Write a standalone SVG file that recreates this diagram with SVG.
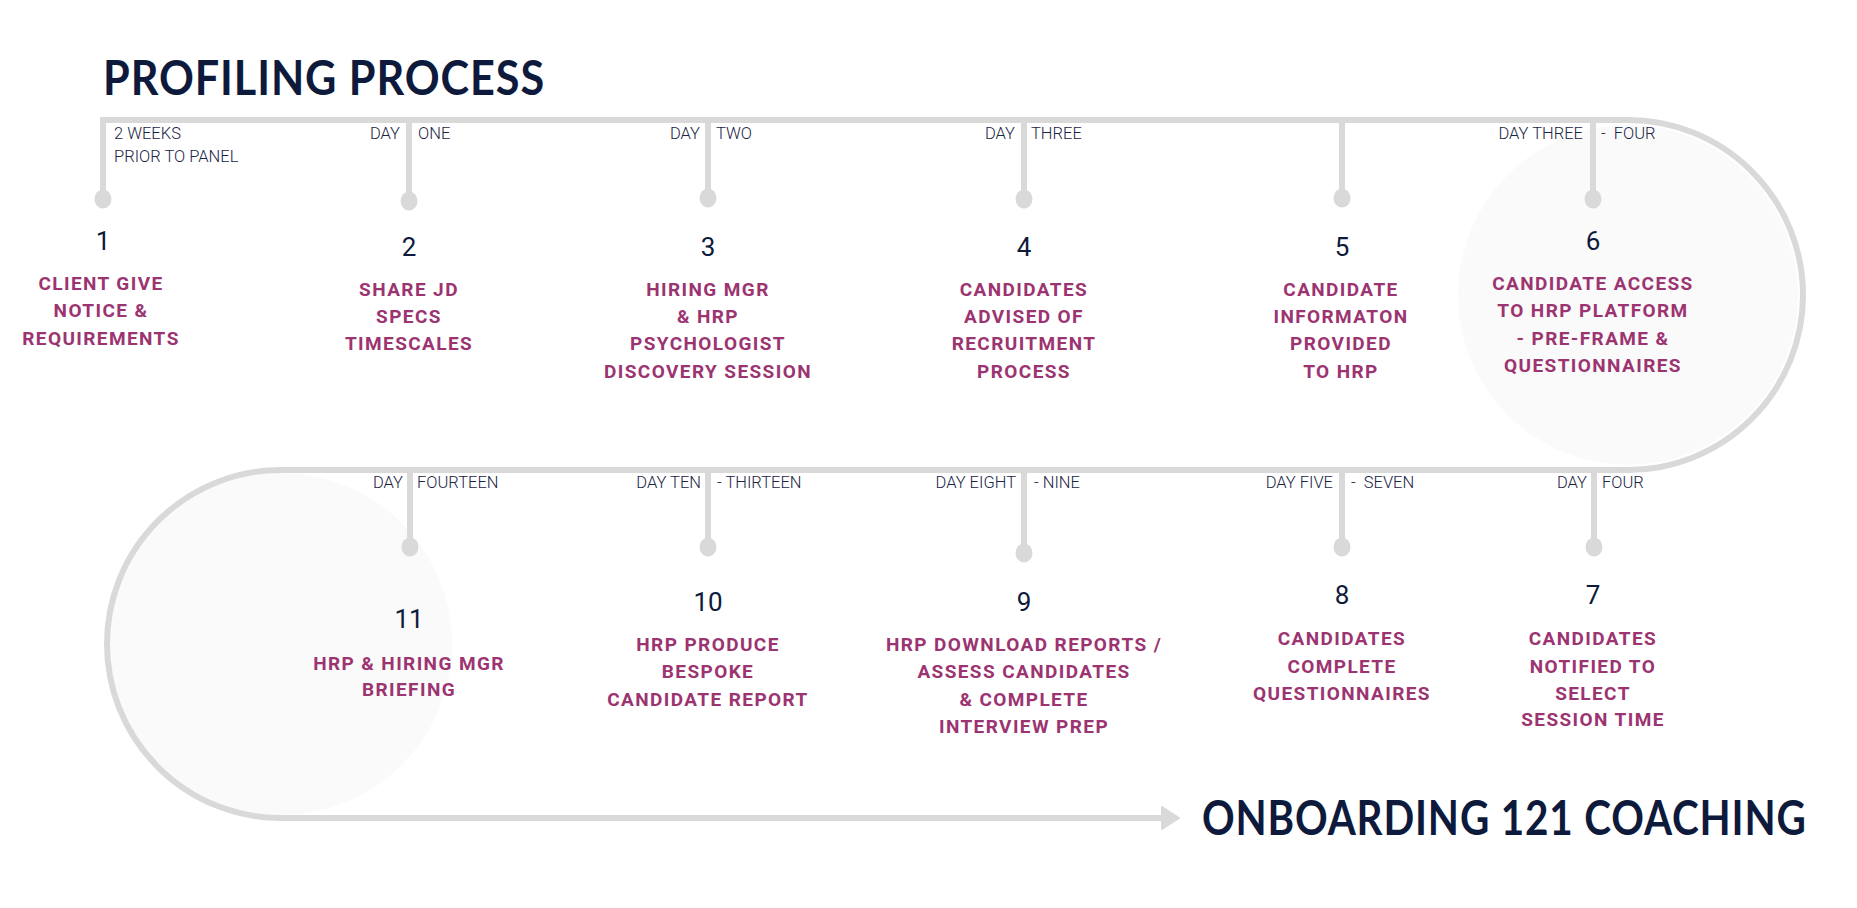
<svg xmlns="http://www.w3.org/2000/svg" width="1857" height="908" viewBox="0 0 1857 908">
<style>
.title{font-family:Lato,"Open Sans",sans-serif;font-weight:700;font-size:48px;fill:#0e1a3c;letter-spacing:1px}
.day{font-family:Roboto,"Liberation Sans",sans-serif;font-weight:300;font-size:16.5px;fill:#1a2444}
.num{font-family:Roboto,"Liberation Sans",sans-serif;font-weight:400;font-size:26px;fill:#0e1a3c;text-anchor:middle}
.lbl{font-family:Roboto,"Liberation Sans",sans-serif;font-weight:700;font-size:19px;fill:#9b3470;letter-spacing:1.4px;text-anchor:middle}
.line{fill:none;stroke:#d9d9d9;stroke-width:6}
.dot{fill:#d9d9d9}
.end{text-anchor:end}
</style>
<rect width="1857" height="908" fill="#ffffff"/>
<circle cx="1628" cy="295" r="170" fill="#fafafa"/>
<circle cx="281" cy="644" r="171" fill="#fafafa"/>
<text class="title" x="103" y="95" textLength="442" lengthAdjust="spacingAndGlyphs">PROFILING PROCESS</text>
<text class="title" transform="translate(1202,835) scale(0.843,1)" x="0" y="0">ONBOARDING 121 COACHING</text>
<g id="connectors">
<path class="line" d="M103,199 L103,120 L1628,120 A175,175 0 0 1 1628,470 L281,470 A174,174 0 0 0 281,818 L1164,818"/>
<path class="dot" d="M1162,807 L1179,818 L1162,829 Z" stroke="#d9d9d9" stroke-width="2" stroke-linejoin="round"/>
</g>
<g id="n1">
<ellipse class="dot" cx="103" cy="199" rx="8.5" ry="9.5"/>
<text class="day" x="114" y="139">2 WEEKS</text>
<text class="day" x="114" y="162">PRIOR TO PANEL</text>
<text class="num" x="103" y="250">1</text>
<text class="lbl" x="101" y="290">CLIENT GIVE</text>
<text class="lbl" x="101" y="317">NOTICE &amp;</text>
<text class="lbl" x="101" y="345">REQUIREMENTS</text>
</g>
<g id="n2">
<path class="line" d="M409,120 L409,201"/>
<ellipse class="dot" cx="409" cy="201" rx="8.5" ry="9.5"/>
<text class="day end" x="400" y="139">DAY</text>
<text class="day" x="418" y="139">ONE</text>
<text class="num" x="409" y="256">2</text>
<text class="lbl" x="409" y="296">SHARE JD</text>
<text class="lbl" x="409" y="323">SPECS</text>
<text class="lbl" x="409" y="350">TIMESCALES</text>
</g>
<g id="n3">
<path class="line" d="M708,120 L708,198"/>
<ellipse class="dot" cx="708" cy="198" rx="8.5" ry="9.5"/>
<text class="day end" x="700" y="139">DAY</text>
<text class="day" x="716" y="139">TWO</text>
<text class="num" x="708" y="256">3</text>
<text class="lbl" x="708" y="296">HIRING MGR</text>
<text class="lbl" x="708" y="323">&amp; HRP</text>
<text class="lbl" x="708" y="350">PSYCHOLOGIST</text>
<text class="lbl" x="708" y="378">DISCOVERY SESSION</text>
</g>
<g id="n4">
<path class="line" d="M1024,120 L1024,199"/>
<ellipse class="dot" cx="1024" cy="199" rx="8.5" ry="9.5"/>
<text class="day end" x="1015" y="139">DAY</text>
<text class="day" x="1031" y="139">THREE</text>
<text class="num" x="1024" y="256">4</text>
<text class="lbl" x="1024" y="296">CANDIDATES</text>
<text class="lbl" x="1024" y="323">ADVISED OF</text>
<text class="lbl" x="1024" y="350">RECRUITMENT</text>
<text class="lbl" x="1024" y="378">PROCESS</text>
</g>
<g id="n5">
<path class="line" d="M1342,120 L1342,198"/>
<ellipse class="dot" cx="1342" cy="198" rx="8.5" ry="9.5"/>
<text class="num" x="1342" y="256">5</text>
<text class="lbl" x="1341" y="296">CANDIDATE</text>
<text class="lbl" x="1341" y="323">INFORMATON</text>
<text class="lbl" x="1341" y="350">PROVIDED</text>
<text class="lbl" x="1341" y="378">TO HRP</text>
</g>
<g id="n6">
<path class="line" d="M1593,120 L1593,199"/>
<ellipse class="dot" cx="1593" cy="199" rx="8.5" ry="9.5"/>
<text class="day end" x="1583" y="139">DAY THREE</text>
<text class="day" x="1601" y="139">-&#160;&#160;FOUR</text>
<text class="num" x="1593" y="250">6</text>
<text class="lbl" x="1593" y="290">CANDIDATE ACCESS</text>
<text class="lbl" x="1593" y="317">TO HRP PLATFORM</text>
<text class="lbl" x="1593" y="345">- PRE-FRAME &amp;</text>
<text class="lbl" x="1593" y="372">QUESTIONNAIRES</text>
</g>
<g id="n7">
<path class="line" d="M1594,470 L1594,547"/>
<ellipse class="dot" cx="1594" cy="547" rx="8.5" ry="9.5"/>
<text class="day end" x="1587" y="488">DAY</text>
<text class="day" x="1602" y="488">FOUR</text>
<text class="num" x="1593" y="604">7</text>
<text class="lbl" x="1593" y="645">CANDIDATES</text>
<text class="lbl" x="1593" y="673">NOTIFIED TO</text>
<text class="lbl" x="1593" y="700">SELECT</text>
<text class="lbl" x="1593" y="726">SESSION TIME</text>
</g>
<g id="n8">
<path class="line" d="M1342,470 L1342,547"/>
<ellipse class="dot" cx="1342" cy="547" rx="8.5" ry="9.5"/>
<text class="day end" x="1333" y="488">DAY FIVE</text>
<text class="day" x="1351" y="488">-&#160;&#160;SEVEN</text>
<text class="num" x="1342" y="604">8</text>
<text class="lbl" x="1342" y="645">CANDIDATES</text>
<text class="lbl" x="1342" y="673">COMPLETE</text>
<text class="lbl" x="1342" y="700">QUESTIONNAIRES</text>
</g>
<g id="n9">
<path class="line" d="M1024,470 L1024,553"/>
<ellipse class="dot" cx="1024" cy="553" rx="8.5" ry="9.5"/>
<text class="day end" x="1016" y="488">DAY EIGHT</text>
<text class="day" x="1034" y="488">- NINE</text>
<text class="num" x="1024" y="611">9</text>
<text class="lbl" x="1024" y="651">HRP DOWNLOAD REPORTS /</text>
<text class="lbl" x="1024" y="678">ASSESS CANDIDATES</text>
<text class="lbl" x="1024" y="706">&amp; COMPLETE</text>
<text class="lbl" x="1024" y="733">INTERVIEW PREP</text>
</g>
<g id="n10">
<path class="line" d="M708,470 L708,547"/>
<ellipse class="dot" cx="708" cy="547" rx="8.5" ry="9.5"/>
<text class="day end" x="701" y="488">DAY TEN</text>
<text class="day" x="717" y="488">- THIRTEEN</text>
<text class="num" x="708" y="611">10</text>
<text class="lbl" x="708" y="651">HRP PRODUCE</text>
<text class="lbl" x="708" y="678">BESPOKE</text>
<text class="lbl" x="708" y="706">CANDIDATE REPORT</text>
</g>
<g id="n11">
<path class="line" d="M410,470 L410,547"/>
<ellipse class="dot" cx="410" cy="547" rx="8.5" ry="9.5"/>
<text class="day end" x="403" y="488">DAY</text>
<text class="day" x="417" y="488">FOURTEEN</text>
<text class="num" x="409" y="628">11</text>
<text class="lbl" x="409" y="670">HRP &amp; HIRING MGR</text>
<text class="lbl" x="409" y="696">BRIEFING</text>
</g>
</svg>
